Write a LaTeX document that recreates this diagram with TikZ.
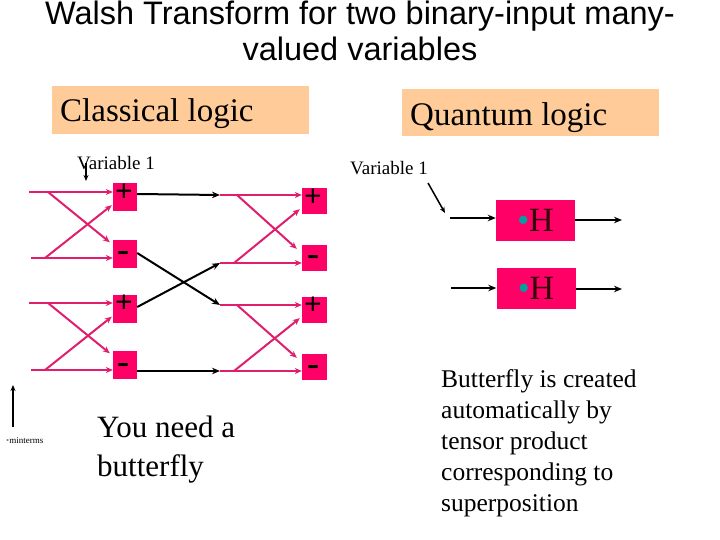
\documentclass[tikz,border=0pt]{standalone}
\usepackage{fontspec}
\setmainfont{Liberation Serif}
\newfontfamily\arialfont{Liberation Sans}
\usetikzlibrary{arrows.meta,calc}
\definecolor{boxred}{RGB}{255,0,102}
\definecolor{linepink}{RGB}{225,30,110}
\definecolor{peach}{RGB}{255,204,153}
\definecolor{tealdot}{RGB}{0,160,160}
\definecolor{darkH}{RGB}{50,0,10}
\tikzset{
  gate/.style={fill=boxred, draw=none, inner sep=0pt, minimum width=24pt, minimum height=28pt},
  gateR/.style={gate, minimum width=25pt, minimum height=26pt},
  hgate/.style={fill=boxred, draw=none, inner sep=0pt, minimum width=79pt, minimum height=41pt,
     font=\fontsize{34}{34}\selectfont},
  plus/.style={font=\fontsize{31}{31}\selectfont\bfseries},
  minus/.style={font=\fontsize{36}{36}\selectfont\bfseries},
  pinkarrow/.style={draw=linepink, line width=2pt, -{Stealth[length=7pt,width=6pt]}},
  blackarrow/.style={draw=black, line width=2pt, -{Stealth[length=8pt,width=6.5pt]}},
  thinarrow/.style={draw=black, line width=1.5pt, -{Stealth[length=6pt,width=5pt]}},
  titlebox/.style={fill=peach, draw=none, inner sep=0pt},
  txt/.style={inner sep=0pt, anchor=base west},
}
\begin{document}
\begin{tikzpicture}[x=1pt,y=-1pt]
\useasboundingbox (0,0) rectangle (720,540);

% title
\node[inner sep=0pt, anchor=base] (t1) at (360,25) {\arialfont\fontsize{32.5}{36}\selectfont Walsh Transform for two binary-input many-};
\node[inner sep=0pt, anchor=base] (t2) at (360,61) {\arialfont\fontsize{32.5}{36}\selectfont valued variables};

% headers
\node[titlebox, minimum width=257pt, minimum height=48pt] (cl) at (180.5,110) {};
\node[txt] (clt) at (60,122) {\fontsize{33}{33}\selectfont Classical logic};
\node[titlebox, minimum width=257pt, minimum height=47pt] (ql) at (530.5,112.5) {};
\node[txt] (qlt) at (410,126) {\fontsize{33}{33}\selectfont Quantum logic};

% variable labels
\node[txt] (v1) at (77,170) {\fontsize{19}{19}\selectfont Variable 1};
\coordinate (v1a) at (86,163);
\coordinate (v1b) at (86,181);
\draw[thinarrow] (v1a) -- (v1b);

\node[txt] (v2) at (350,175) {\fontsize{19}{19}\selectfont Variable 1};
\coordinate (v2a) at (428,183);
\coordinate (v2b) at (445,213);
\draw[thinarrow] (v2a) -- (v2b);

% left column gates
\node[gate] (b1) at (125,197) {};
\node[gate] (b2) at (125,253.5) {};
\node[gate] (b3) at (125,308.5) {};
\node[gate] (b4) at (125,364.5) {};
\node[plus, inner sep=0pt] (b1t) at (124,193) {+};
\node[minus, inner sep=0pt] (b2t) at (123,256) {-};
\node[plus, inner sep=0pt] (b3t) at (124,304) {+};
\node[minus, inner sep=0pt] (b4t) at (123,368) {-};

% right column gates
\node[gateR] (c1) at (314.5,201) {};
\node[gateR] (c2) at (314.5,257.5) {};
\node[gateR] (c3) at (314.5,310) {};
\node[gateR] (c4) at (314.5,366.5) {};
\node[plus, inner sep=0pt] (c1t) at (313,198) {+};
\node[minus, inner sep=0pt] (c2t) at (313,260) {-};
\node[plus, inner sep=0pt] (c3t) at (313,306) {+};
\node[minus, inner sep=0pt] (c4t) at (313,370) {-};

% left butterfly inputs
\coordinate (i1) at (29,192);
\coordinate (i2) at (31,258);
\coordinate (x1) at (48,192);
\coordinate (x2) at (45,258);
\coordinate (i3) at (29,303);
\coordinate (i4) at (31,370);
\coordinate (x3) at (48,303);
\coordinate (x4) at (45,370);

\draw[pinkarrow] (i1) -- ([yshift=5pt]b1.west);
\draw[pinkarrow] (i2) -- ([yshift=-4.5pt]b2.west);
\draw[pinkarrow] (x1) -- ([xshift=-3pt,yshift=-3pt]b2.north west);
\draw[pinkarrow] (x2) -- ([xshift=-1pt,yshift=6pt]b1.south west);
\draw[pinkarrow] (i3) -- ([yshift=5.5pt]b3.west);
\draw[pinkarrow] (i4) -- ([yshift=-5.5pt]b4.west);
\draw[pinkarrow] (x3) -- ([xshift=-3pt,yshift=-3pt]b4.north west);
\draw[pinkarrow] (x4) -- ([xshift=-1pt,yshift=6pt]b3.south west);

% right butterfly
\coordinate (r1) at (220,195);
\coordinate (r2) at (220,263);
\coordinate (r3) at (220,305);
\coordinate (r4) at (220,371);
\coordinate (y1) at (237,195);
\coordinate (y2) at (234,263);
\coordinate (y3) at (237,305);
\coordinate (y4) at (234,371);

\draw[pinkarrow] (r1) -- ([yshift=6pt]c1.west);
\draw[pinkarrow] (r2) -- ([yshift=-5.5pt]c2.west);
\draw[pinkarrow] (y1) -- ([xshift=-5pt,yshift=-4.5pt]c2.north west);
\draw[pinkarrow] (y2) -- ([xshift=-2pt,yshift=5pt]c1.south west);
\draw[pinkarrow] (r3) -- ([yshift=5pt]c3.west);
\draw[pinkarrow] (r4) -- ([yshift=-4.5pt]c4.west);
\draw[pinkarrow] (y3) -- ([xshift=-5pt,yshift=-4.5pt]c4.north west);
\draw[pinkarrow] (y4) -- ([xshift=-2pt,yshift=5pt]c3.south west);

% black connectors between stages
\draw[blackarrow] ([yshift=3pt]b1.east) -- (r1);
\draw[blackarrow] ([yshift=0.5pt]b2.east) -- (r3);
\draw[blackarrow] ([yshift=1.5pt]b3.east) -- (r2);
\draw[blackarrow] ([yshift=-6.5pt]b4.east) -- (r4);

% minterms
\coordinate (m1) at (13,427);
\coordinate (m2) at (13,385);
\draw[thinarrow] (m1) -- (m2);
\node[txt] (mt) at (6,443) {\fontsize{9}{9}\selectfont\textcolor{gray}{•}minterms};

% you need a butterfly
\node[txt] (yn) at (97,437) {\fontsize{31}{40}\selectfont You need a};
\node[txt] (yn2) at (97,476) {\fontsize{31}{40}\selectfont butterfly};

% quantum side
\node[hgate] (h1) at (535.5,220.5) {\textcolor{tealdot}{•}\textcolor{darkH}{H}};
\node[hgate] (h2) at (536,288.5) {\textcolor{tealdot}{•}\textcolor{darkH}{H}};
\coordinate (q1) at (450,218);
\coordinate (q2) at (451,288);
\coordinate (o1) at (622,220);
\coordinate (o2) at (622,289);
\draw[blackarrow] (q1) -- (h1.west |- q1);
\draw[blackarrow] (q2) -- (h2.west |- q2);
\draw[blackarrow] (h1.east |- o1) -- (o1);
\draw[blackarrow] (h2.east |- o2) -- (o2);

% explanation text
\node[txt] (e1) at (441,387) {\fontsize{25.5}{31}\selectfont Butterfly is created};
\node[txt] (e2) at (441,418) {\fontsize{25.5}{31}\selectfont automatically by};
\node[txt] (e3) at (441,449) {\fontsize{25.5}{31}\selectfont tensor product};
\node[txt] (e4) at (441,480) {\fontsize{25.5}{31}\selectfont corresponding to};
\node[txt] (e5) at (441,511) {\fontsize{25.5}{31}\selectfont superposition};
\end{tikzpicture}
\end{document}
